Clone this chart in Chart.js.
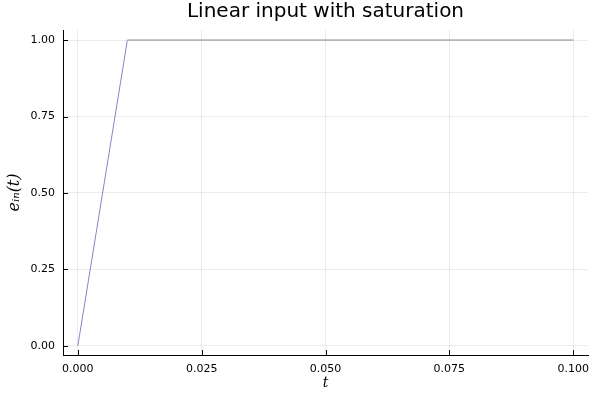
<!DOCTYPE html>
<html>
<head>
<meta charset="utf-8">
<script src="https://cdn.jsdelivr.net/npm/chart.js@4.4.1/dist/chart.umd.min.js"></script>
<style>
  html, body { margin: 0; padding: 0; background: #fff; }
  #wrap { width: 600px; height: 400px; }
</style>
</head>
<body>
<div id="wrap"><canvas id="chart"></canvas></div>
<script>
// data
const timeValues = [0, 0.01, 0.1];
const inputValues = [0, 1, 1];
const xTicks = [0, 0.025, 0.05, 0.075, 0.1];
const yTicks = [0, 0.25, 0.5, 0.75, 1];
const chartTitle = "Linear input with saturation";

const points = timeValues.map((t, i) => ({ x: t, y: inputValues[i] }));

// title centred over the plot area, not the canvas
const plotTitlePlugin = {
  id: "plotTitle",
  afterDraw(chart) {
    const { ctx, chartArea } = chart;
    ctx.save();
    ctx.fillStyle = "#000";
    ctx.font = "20px 'DejaVu Sans'";
    ctx.textAlign = "center";
    ctx.textBaseline = "middle";
    ctx.fillText(chartTitle, (chartArea.left + chartArea.right) / 2, 12);
    ctx.restore();
  }
};

// small inward tick marks, like the original plot
const innerTicksPlugin = {
  id: "innerTicks",
  afterDatasetsDraw(chart) {
    const { ctx, chartArea, scales } = chart;
    ctx.save();
    ctx.strokeStyle = "#000";
    ctx.lineWidth = 1;
    ctx.beginPath();
    xTicks.forEach(v => {
      const x = Math.round(scales.x.getPixelForValue(v)) + 0.5;
      ctx.moveTo(x, chartArea.bottom);
      ctx.lineTo(x, chartArea.bottom - 5);
    });
    yTicks.forEach(v => {
      const y = Math.round(scales.y.getPixelForValue(v)) + 0.5;
      ctx.moveTo(chartArea.left, y);
      ctx.lineTo(chartArea.left + 5, y);
    });
    ctx.stroke();
    ctx.restore();
  }
};

new Chart(document.getElementById("chart"), {
  type: "scatter",
  data: {
    datasets: [{
      data: points,
      showLine: true,
      borderColor: "#8585c8",
      borderWidth: 1,
      segment: {
        borderColor: c => c.p0.parsed.y === c.p1.parsed.y ? "#b5b5b5" : "#8585c8",
        borderWidth: c => c.p0.parsed.y === c.p1.parsed.y ? 1.6 : 1
      },
      pointRadius: 0,
      fill: false
    }]
  },
  options: {
    responsive: true,
    maintainAspectRatio: false,
    animation: false,
    layout: { padding: { left: 0, right: 12, top: 30, bottom: 0 } },
    plugins: {
      legend: { display: false },
      tooltip: { enabled: false },
      title: { display: false }
    },
    scales: {
      x: {
        type: "linear",
        min: -0.003,
        max: 0.103,
        afterBuildTicks: s => { s.ticks = xTicks.map(v => ({ value: v })); },
        afterFit: s => { s.height = 45; },
        ticks: {
          color: "#000",
          font: { family: "DejaVu Sans", size: 11 },
          padding: 8,
          maxRotation: 0,
          callback: v => v.toFixed(3)
        },
        grid: { color: "rgba(0,0,0,0.08)", lineWidth: 1, drawTicks: false },
        border: { color: "#000", width: 1 },
        title: {
          display: true,
          text: "t",
          color: "#000",
          font: { family: "DejaVu Serif", size: 14, style: "italic" },
          padding: { top: 0, bottom: 8 }
        }
      },
      y: {
        type: "linear",
        min: -0.03,
        max: 1.033,
        afterBuildTicks: s => { s.ticks = yTicks.map(v => ({ value: v })); },
        afterFit: s => { s.width = 63; },
        ticks: {
          color: "#000",
          font: { family: "DejaVu Sans", size: 11 },
          padding: 8,
          callback: v => v.toFixed(2)
        },
        grid: { color: "rgba(0,0,0,0.08)", lineWidth: 1, drawTicks: false },
        border: { color: "#000", width: 1 },
        title: {
          display: true,
          text: "eᵢₙ(t)",
          color: "#000",
          font: { family: "DejaVu Serif", size: 16, style: "italic" },
          padding: { top: 5, bottom: 0 }
        }
      }
    }
  },
  plugins: [plotTitlePlugin, innerTicksPlugin]
});
</script>
</body>
</html>
